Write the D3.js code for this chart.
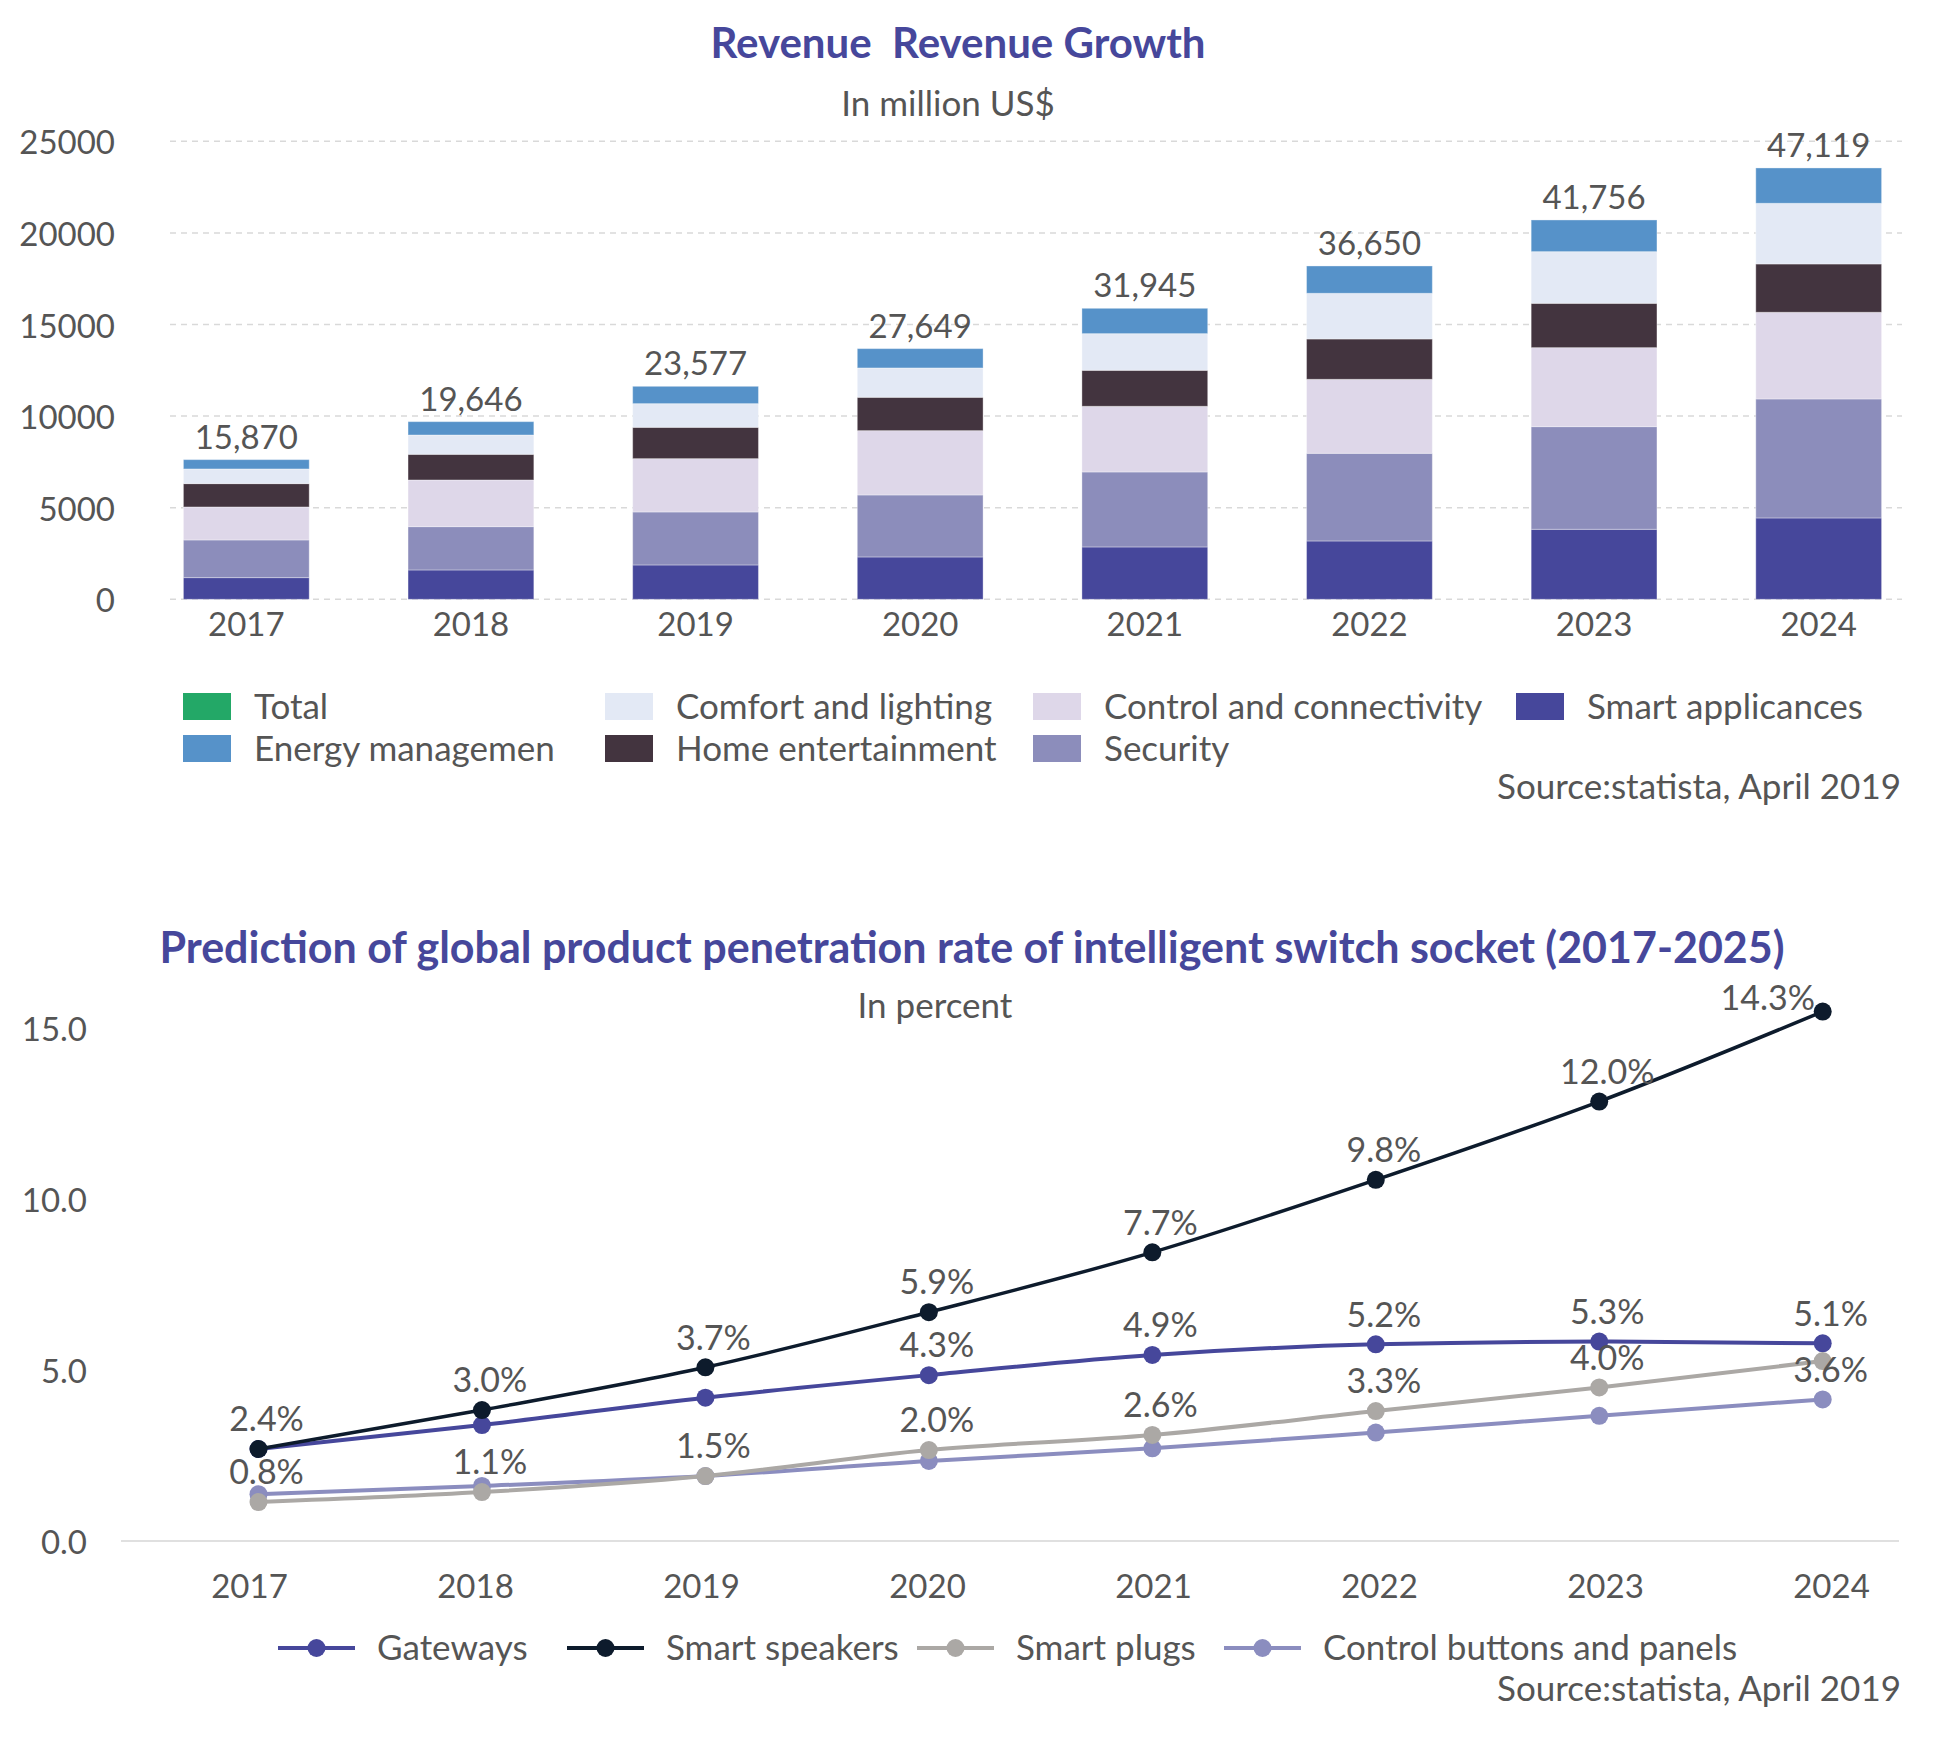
<!DOCTYPE html>
<html>
<head>
<meta charset="utf-8">
<script src="https://cdn.jsdelivr.net/npm/d3@7"></script>
<style>
  body { margin: 0; background: #fff; }
  svg { font-family: Lato, "Noto Sans", sans-serif; }
</style>
</head>
<body>
<div id="vis"></div>
<script>
// ---- data: revenue (million US$) ----
const years = ['2017', '2018', '2019', '2020', '2021', '2022', '2023', '2024'];
const revenueTotals = [15870, 19646, 23577, 27649, 31945, 36650, 41756, 47119];
const smartAppliances = [1183, 1601, 1874, 2311, 2857, 3184, 3821, 4440];
const security = [2056, 2365, 2893, 3384, 4094, 4785, 5604, 6496];
const controlConnectivity = [1801, 2547, 2911, 3512, 3584, 4039, 4312, 4731];
const homeEntertainment = [1274, 1401, 1710, 1820, 1965, 2202, 2420, 2638];
const comfortLighting = [801, 1055, 1292, 1601, 2001, 2493, 2820, 3311];
const energyManagement = [509, 728, 946, 1055, 1383, 1492, 1729, 1929];
const revenueTicks = [0, 5000, 10000, 15000, 20000, 25000];

// ---- data: penetration rate (percent) ----
const gateways = [2.69, 3.39, 4.19, 4.85, 5.44, 5.75, 5.83, 5.78];
const smartSpeakers = [2.69, 3.83, 5.08, 6.69, 8.44, 10.56, 12.85, 15.48];
const smartPlugs = [1.14, 1.43, 1.90, 2.66, 3.10, 3.80, 4.49, 5.26];
const controlButtons = [1.37, 1.61, 1.90, 2.34, 2.71, 3.17, 3.66, 4.14];
const speakerLabels = ['2.4%', '3.0%', '3.7%', '5.9%', '7.7%', '9.8%', '12.0%', '14.3%'];
const gatewayLabels = [null, null, null, '4.3%', '4.9%', '5.2%', '5.3%', '5.1%'];
const plugLabels = ['0.8%', '1.1%', '1.5%', '2.0%', '2.6%', '3.3%', '4.0%', null];
const buttonLabels = [null, null, null, null, null, null, null, '3.6%'];
const rateTicks = [0, 5, 10, 15];

const textColor = '#555';
const titleColor = '#46479b';
const numSize = '33px';
const textSize = '35px';

const svg = d3.select('#vis').append('svg')
  .attr('width', 1944)
  .attr('height', 1737);

// ================= top chart =================
const stackKeys = ['smart', 'security', 'control', 'home', 'comfort', 'energy'];
const stackColors = {
  smart: '#46479b', security: '#8c8dbb', control: '#ded7e9',
  home: '#43343f', comfort: '#e3e9f5', energy: '#5692c9'
};
const rows = years.map((y, i) => ({
  year: y,
  smart: smartAppliances[i],
  security: security[i],
  control: controlConnectivity[i],
  home: homeEntertainment[i],
  comfort: comfortLighting[i],
  energy: energyManagement[i],
  total: revenueTotals[i]
}));

const xBar = d3.scaleBand().domain(years).range([134, 1931]).paddingInner(0.44).paddingOuter(0.22);
const yBar = d3.scaleLinear().domain([0, 25000]).range([599.3, 141.3]);

svg.append('text')
  .attr('x', 958).attr('y', 58)
  .attr('text-anchor', 'middle')
  .style('font-size', '42px').style('font-weight', 'bold')
  .style('fill', titleColor)
  .style('white-space', 'pre')
  .text('Revenue  Revenue Growth');

svg.append('text')
  .attr('x', 948).attr('y', 116)
  .attr('text-anchor', 'middle')
  .style('font-size', textSize)
  .style('fill', textColor)
  .text('In million US$');

// gridlines
svg.append('g').selectAll('line')
  .data(revenueTicks)
  .enter().append('line')
  .attr('x1', 170).attr('x2', 1902)
  .attr('y1', d => yBar(d)).attr('y2', d => yBar(d))
  .attr('stroke', '#d9d9d9')
  .attr('stroke-width', 1.5)
  .attr('stroke-dasharray', '6,5');

const yAxisTop = svg.append('g')
  .attr('transform', 'translate(115,0)')
  .call(d3.axisLeft(yBar).tickValues(revenueTicks).tickFormat(d3.format('d')).tickSize(0).tickPadding(0));
yAxisTop.select('.domain').remove();
yAxisTop.selectAll('text')
  .attr('dy', '0.38em')
  .style('font-family', 'Lato, sans-serif')
  .style('font-size', numSize)
  .style('fill', textColor);

const series = d3.stack().keys(stackKeys)(rows);

svg.append('g').selectAll('g')
  .data(series)
  .enter().append('g')
  .attr('fill', d => stackColors[d.key])
  .selectAll('rect')
  .data(d => d)
  .enter().append('rect')
  .attr('x', d => xBar(d.data.year))
  .attr('width', xBar.bandwidth())
  .attr('y', d => yBar(d[1]))
  .attr('height', d => yBar(d[0]) - yBar(d[1]))
  .attr('stroke', '#ffffff')
  .attr('stroke-opacity', 0.35)
  .attr('stroke-width', 1);

// totals above bars
const topSeries = series[series.length - 1];
svg.append('g').selectAll('text')
  .data(topSeries)
  .enter().append('text')
  .attr('x', d => xBar(d.data.year) + xBar.bandwidth() / 2)
  .attr('y', d => yBar(d[1]) - 11)
  .attr('text-anchor', 'middle')
  .style('font-size', numSize)
  .style('fill', textColor)
  .text(d => d3.format(',')(d.data.total));

const xAxisTop = svg.append('g')
  .attr('transform', 'translate(0,612)')
  .call(d3.axisBottom(xBar).tickSize(0).tickPadding(0));
xAxisTop.select('.domain').remove();
xAxisTop.selectAll('text')
  .attr('dy', '0.72em')
  .style('font-family', 'Lato, sans-serif')
  .style('font-size', numSize)
  .style('fill', textColor);

// legend (column-major, two rows)
const legendTop = [
  {name: 'Total', color: '#23a867'},
  {name: 'Energy managemen', color: stackColors.energy},
  {name: 'Comfort and lighting', color: stackColors.comfort},
  {name: 'Home entertainment', color: stackColors.home},
  {name: 'Control and connectivity', color: stackColors.control},
  {name: 'Security', color: stackColors.security},
  {name: 'Smart applicances', color: stackColors.smart}
];
const legendColX = [183, 605, 1033, 1516];
const legendRowY = [719, 761];
const lgTop = svg.append('g').selectAll('g')
  .data(legendTop)
  .enter().append('g')
  .attr('transform', (d, i) => 'translate(' + legendColX[Math.floor(i / 2)] + ',' + legendRowY[i % 2] + ')');
lgTop.append('rect')
  .attr('x', 0).attr('y', -26)
  .attr('width', 48).attr('height', 27)
  .attr('fill', d => d.color);
lgTop.append('text')
  .attr('x', 71).attr('y', 0)
  .style('font-size', textSize)
  .style('fill', textColor)
  .text(d => d.name);

svg.append('text')
  .attr('x', 1901).attr('y', 799)
  .attr('text-anchor', 'end')
  .style('font-size', textSize)
  .style('fill', textColor)
  .text('Source:statista, April 2019');

// ================= bottom chart =================
const xLine = d3.scalePoint().domain(years).range([258.5, 1822.7]);
const xLineLabels = d3.scalePoint().domain(years).range([249, 1831]);
const yLine = d3.scaleLinear().domain([0, 15]).range([1541, 1028]);

svg.append('text')
  .attr('x', 972).attr('y', 963)
  .attr('text-anchor', 'middle')
  .style('font-size', '43px').style('font-weight', 'bold')
  .style('fill', titleColor)
  .text('Prediction of global product penetration rate of intelligent switch socket (2017-2025)');

svg.append('text')
  .attr('x', 935).attr('y', 1018)
  .attr('text-anchor', 'middle')
  .style('font-size', textSize)
  .style('fill', textColor)
  .text('In percent');

svg.append('line')
  .attr('x1', 121).attr('x2', 1899)
  .attr('y1', yLine(0)).attr('y2', yLine(0))
  .attr('stroke', '#e0e0e0')
  .attr('stroke-width', 2);

const yAxisBottom = svg.append('g')
  .attr('transform', 'translate(87,0)')
  .call(d3.axisLeft(yLine).tickValues(rateTicks).tickFormat(d3.format('.1f')).tickSize(0).tickPadding(0));
yAxisBottom.select('.domain').remove();
yAxisBottom.selectAll('text')
  .attr('dy', '0.38em')
  .style('font-family', 'Lato, sans-serif')
  .style('font-size', numSize)
  .style('fill', textColor);

const xAxisBottom = svg.append('g')
  .attr('transform', 'translate(0,1574)')
  .call(d3.axisBottom(xLineLabels).tickSize(0).tickPadding(0));
xAxisBottom.select('.domain').remove();
xAxisBottom.selectAll('text')
  .attr('dy', '0.72em')
  .style('font-family', 'Lato, sans-serif')
  .style('font-size', numSize)
  .style('fill', textColor);

const lineSeries = [
  {name: 'Gateways', values: gateways, labels: gatewayLabels, color: '#46479b', width: 4},
  {name: 'Smart speakers', values: smartSpeakers, labels: speakerLabels, color: '#0d1b2c', width: 3.5},
  {name: 'Smart plugs', values: smartPlugs, labels: plugLabels, color: '#aba8a5', width: 4},
  {name: 'Control buttons and panels', values: controlButtons, labels: buttonLabels, color: '#8b8dbf', width: 4}
];
// draw order: buttons under plugs
const drawOrder = [lineSeries[0], lineSeries[1], lineSeries[3], lineSeries[2]];

const line = d3.line()
  .x((d, i) => xLine(years[i]))
  .y(d => yLine(d))
  .curve(d3.curveMonotoneX);

drawOrder.forEach(s => {
  svg.append('path')
    .attr('d', line(s.values))
    .attr('fill', 'none')
    .attr('stroke', s.color)
    .attr('stroke-width', s.width);
  svg.append('g').selectAll('circle')
    .data(s.values)
    .enter().append('circle')
    .attr('cx', (d, i) => xLine(years[i]))
    .attr('cy', d => yLine(d))
    .attr('r', 9)
    .attr('fill', s.color);
});

// value labels
lineSeries.forEach(s => {
  const pts = s.values.map((v, i) => ({v: v, i: i, label: s.labels[i]})).filter(d => d.label);
  svg.append('g').selectAll('text')
    .data(pts)
    .enter().append('text')
    .attr('x', d => {
      const y = yLine(d.v) - 30;
      return y < 1000 ? xLine(years[d.i]) - 55 : xLine(years[d.i]) + 8;
    })
    .attr('y', d => {
      const y = yLine(d.v) - 30;
      return y < 1000 ? yLine(d.v) - 14 : y;
    })
    .attr('dy', '0.36em')
    .attr('text-anchor', 'middle')
    .style('font-size', '34px')
    .style('fill', textColor)
    .text(d => d.label);
});

// legend
const legendLineX = [278, 567, 917, 1224];
const lgBottom = svg.append('g').selectAll('g')
  .data(lineSeries)
  .enter().append('g')
  .attr('transform', (d, i) => 'translate(' + legendLineX[i] + ',1648)');
lgBottom.append('line')
  .attr('x1', 0).attr('x2', 77)
  .attr('stroke', d => d.color)
  .attr('stroke-width', 4);
lgBottom.append('circle')
  .attr('cx', 38.5).attr('r', 9)
  .attr('fill', d => d.color);
lgBottom.append('text')
  .attr('x', 99).attr('y', 12)
  .style('font-size', textSize)
  .style('fill', textColor)
  .text(d => d.name);

svg.append('text')
  .attr('x', 1901).attr('y', 1701)
  .attr('text-anchor', 'end')
  .style('font-size', textSize)
  .style('fill', textColor)
  .text('Source:statista, April 2019');
</script>
</body>
</html>
